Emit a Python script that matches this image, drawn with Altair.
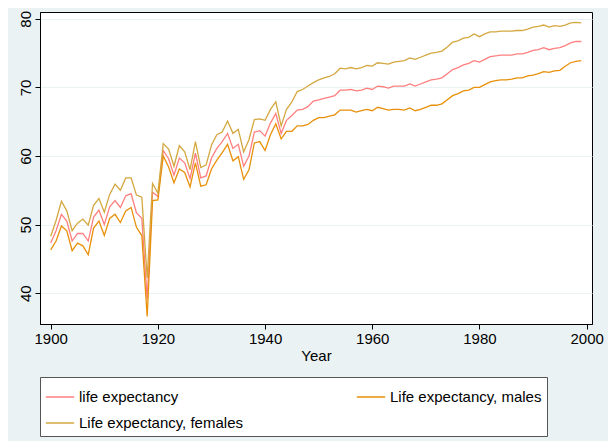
import altair as alt
import pandas as pd

years = list(range(1900, 2000))
le = [47.3, 49.1, 51.5, 50.5, 47.6, 48.7, 48.7, 47.6, 51.1, 52.1,
      50.0, 52.6, 53.5, 52.5, 54.2, 54.5, 51.7, 50.9, 39.1, 54.7,
      54.1, 60.8, 59.6, 57.2, 59.7, 59.0, 56.7, 60.4, 56.8, 57.1,
      59.7, 61.1, 62.1, 63.3, 61.1, 61.7, 58.5, 60.0, 63.5, 63.7,
      62.9, 64.8, 66.2, 63.3, 65.2, 65.9, 66.7, 66.8, 67.2, 68.0,
      68.2, 68.4, 68.6, 68.8, 69.6, 69.6, 69.7, 69.5, 69.6, 69.9,
      69.7, 70.2, 70.1, 69.9, 70.2, 70.2, 70.2, 70.5, 70.2, 70.5,
      70.8, 71.1, 71.2, 71.4, 72.0, 72.6, 72.9, 73.3, 73.5, 73.9,
      73.7, 74.1, 74.5, 74.6, 74.7, 74.7, 74.7, 74.9, 74.9, 75.1,
      75.4, 75.5, 75.8, 75.5, 75.7, 75.8, 76.1, 76.5, 76.7, 76.7]
le_male = [46.3, 47.6, 49.8, 49.1, 46.2, 47.3, 46.9, 45.6, 49.5, 50.5,
           48.4, 50.9, 51.5, 50.3, 52.0, 52.5, 49.6, 48.4, 36.6, 53.5,
           53.6, 60.0, 58.4, 56.1, 58.1, 57.6, 55.5, 59.0, 55.6, 55.8,
           58.1, 59.4, 60.5, 61.7, 59.3, 59.9, 56.6, 58.0, 61.9, 62.1,
           60.8, 63.1, 64.7, 62.5, 63.6, 63.6, 64.4, 64.4, 64.6, 65.2,
           65.6, 65.6, 65.8, 66.0, 66.7, 66.7, 66.7, 66.4, 66.6, 66.8,
           66.6, 67.1, 66.9, 66.7, 66.8, 66.8, 66.7, 67.0, 66.6, 66.8,
           67.1, 67.4, 67.4, 67.6, 68.2, 68.8, 69.1, 69.5, 69.6, 70.0,
           70.0, 70.4, 70.8, 71.0, 71.1, 71.1, 71.2, 71.4, 71.4, 71.7,
           71.8, 72.0, 72.3, 72.2, 72.4, 72.5, 73.1, 73.6, 73.8, 73.9]
le_female = [48.3, 50.6, 53.4, 52.0, 49.1, 50.2, 50.8, 49.9, 52.8, 53.8,
             51.8, 54.4, 55.9, 55.0, 56.8, 56.8, 54.3, 54.0, 42.2, 56.0,
             54.6, 61.8, 61.0, 58.5, 61.5, 60.6, 58.0, 62.1, 58.3, 58.7,
             61.6, 63.1, 63.5, 65.1, 63.3, 63.9, 60.6, 62.4, 65.3, 65.4,
             65.2, 66.8, 67.9, 64.4, 66.8, 67.9, 69.4, 69.7, 70.2, 70.7,
             71.1, 71.4, 71.6, 72.0, 72.8, 72.7, 72.9, 72.7, 72.9, 73.2,
             73.1, 73.6, 73.5, 73.4, 73.7, 73.8, 73.9, 74.3, 74.1, 74.4,
             74.7, 75.0, 75.1, 75.3, 75.9, 76.6, 76.8, 77.2, 77.3, 77.8,
             77.4, 77.8, 78.1, 78.1, 78.2, 78.2, 78.2, 78.3, 78.3, 78.5,
             78.8, 78.9, 79.1, 78.8, 79.0, 78.9, 79.1, 79.4, 79.5, 79.4]

names = ["life expectancy", "Life expectancy, males", "Life expectancy, females"]
colors = ["#FF7F7F", "#E8900A", "#D4A840"]

rows = []
for name, vals in zip(names, [le, le_male, le_female]):
    for y, v in zip(years, vals):
        rows.append({"year": y, "value": v, "series": name})
df = pd.DataFrame(rows)

chart = alt.Chart(df).mark_line(strokeWidth=1.3).encode(
    x=alt.X("year:Q", title="Year",
            scale=alt.Scale(domain=[1898, 2001], nice=False, zero=False),
            axis=alt.Axis(values=[1900, 1920, 1940, 1960, 1980, 2000], grid=False,
                          format="d", titleFontWeight="normal", titleFontSize=15,
                          titlePadding=2)),
    y=alt.Y("value:Q", title=None,
            scale=alt.Scale(domain=[35.5, 81], nice=False, zero=False),
            axis=alt.Axis(values=[40, 50, 60, 70, 80], labelAngle=-90,
                          labelAlign="center", labelBaseline="bottom",
                          gridColor="#EAF2F3", gridWidth=1.2)),
    color=alt.Color("series:N", sort=names,
                    scale=alt.Scale(domain=names, range=colors),
                    legend=alt.Legend(title=None, orient="bottom", columns=2,
                                      symbolType="stroke", symbolSize=800,
                                      symbolStrokeWidth=1.5, labelFontSize=15,
                                      columnPadding=110, labelLimit=300,
                                      strokeColor="#555", fillColor="white",
                                      padding=5, offset=14, rowPadding=3)),
).properties(
    width=552, height=312, background="#EAF2F3",
    padding={"left": 10, "top": 2, "right": 4, "bottom": 4}
).configure_view(
    fill="white", stroke="#000", strokeWidth=1
).configure_axis(
    labelFont="Liberation Sans", titleFont="Liberation Sans", labelFontSize=15,
    labelColor="#000", titleColor="#000", domainColor="#000", tickColor="#000",
    tickSize=5
).configure_legend(labelFont="Liberation Sans", labelColor="#000")

chart.save("out.html", embed_options={"renderer": "svg", "actions": False})
